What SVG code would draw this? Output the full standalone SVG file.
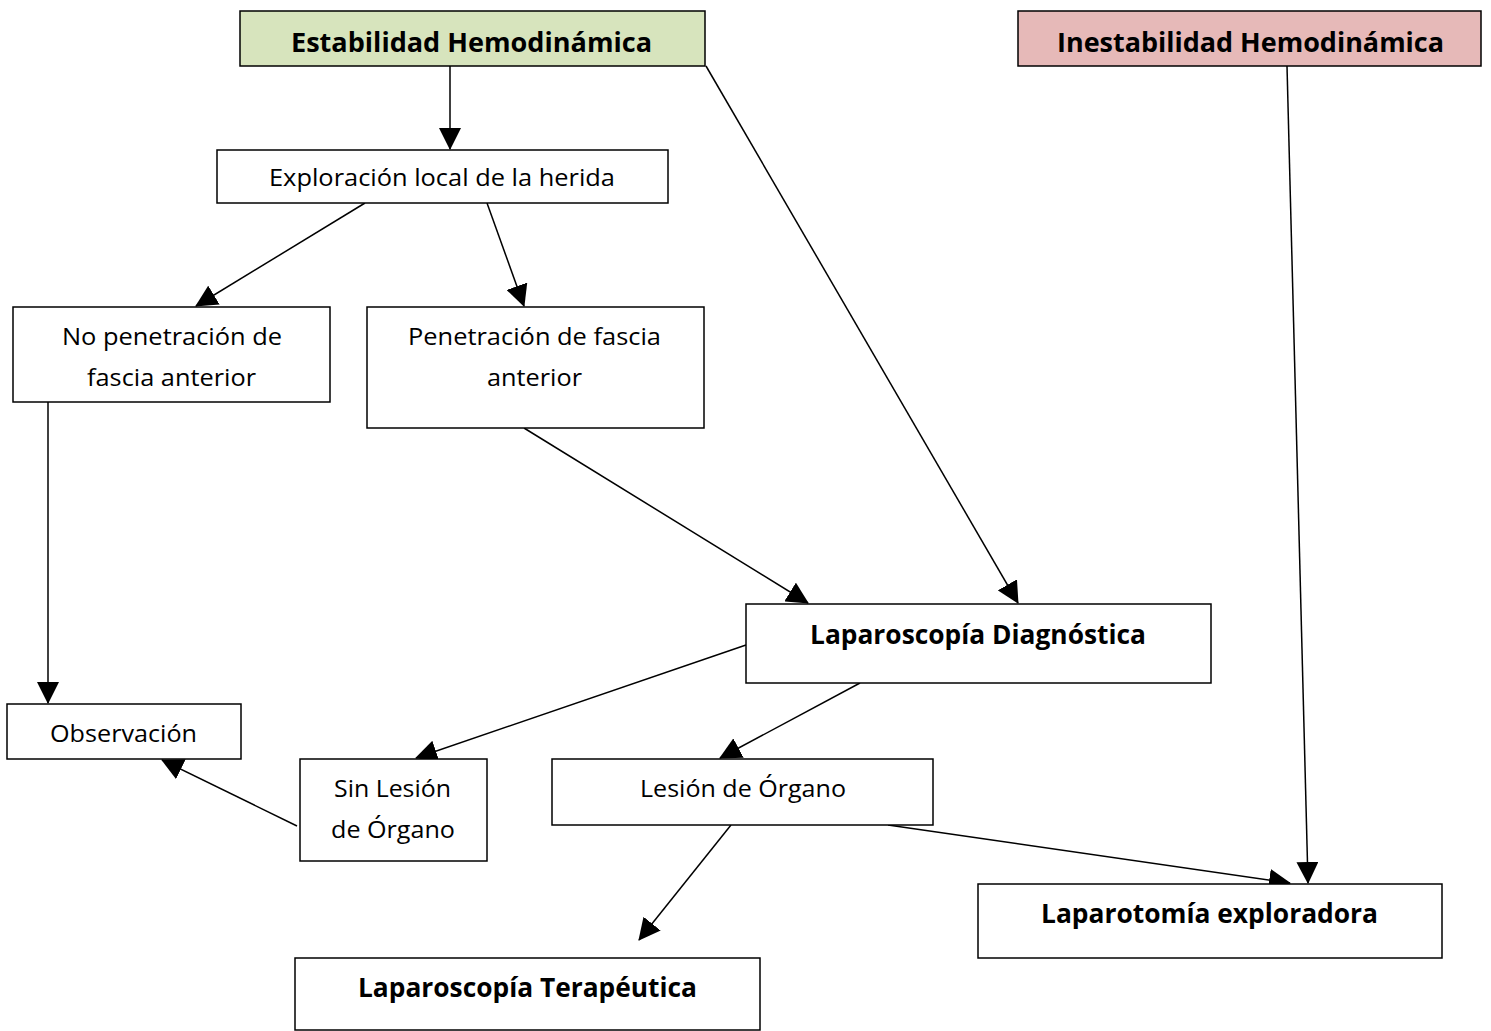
<svg xmlns="http://www.w3.org/2000/svg" width="1491" height="1031" viewBox="0 0 1491 1031">
<defs>
<style>
.box{fill:#fff;stroke:#000;stroke-width:1.5}
.t{font-family:"Open Sans","Liberation Sans",sans-serif;font-size:24px;fill:#000;text-anchor:middle}
.b{font-weight:bold;font-size:26px}
.c{stroke:#000;stroke-width:1.5;fill:none;marker-end:url(#ah)}
</style>
<marker id="ah" markerUnits="userSpaceOnUse" markerWidth="22" markerHeight="22" viewBox="0 0 22 22" refX="21" refY="11" orient="auto">
<path d="M0,0 L22,11 L0,22 z" fill="#000"/>
</marker>
</defs>
<rect width="1491" height="1031" fill="#fff"/>
<g id="connectors">
<line class="c" x1="450" y1="66" x2="450" y2="149"/>
<line class="c" x1="706" y1="66" x2="1018" y2="603"/>
<line class="c" x1="1287" y1="66" x2="1308" y2="883"/>
<line class="c" x1="365" y1="203" x2="196" y2="306"/>
<line class="c" x1="487" y1="203" x2="524" y2="306"/>
<line class="c" x1="48" y1="402" x2="48" y2="703"/>
<line class="c" x1="524" y1="428" x2="808" y2="603"/>
<line class="c" x1="746" y1="645" x2="416" y2="758"/>
<line class="c" x1="860" y1="683" x2="720" y2="758"/>
<line class="c" x1="297" y1="826" x2="162" y2="760"/>
<line class="c" x1="731" y1="825" x2="639" y2="940"/>
<line class="c" x1="888" y1="825" x2="1290" y2="883"/>
</g>
<g id="n1"><rect x="240" y="11" width="465" height="55" fill="#d7e4bd" stroke="#000" stroke-width="1.5"/><text class="t b" x="471.5" y="52" textLength="361" lengthAdjust="spacingAndGlyphs">Estabilidad Hemodinámica</text></g>
<g id="n2"><rect x="1018" y="11" width="463" height="55" fill="#e6b9b8" stroke="#000" stroke-width="1.5"/><text class="t b" x="1250.5" y="52" textLength="387" lengthAdjust="spacingAndGlyphs">Inestabilidad Hemodinámica</text></g>
<g id="n3"><rect class="box" x="217" y="150" width="451" height="53"/><text class="t" x="442" y="186" textLength="346" lengthAdjust="spacingAndGlyphs">Exploración local de la herida</text></g>
<g id="n4"><rect class="box" x="13" y="307" width="317" height="95"/><text class="t" x="172" y="345" textLength="220" lengthAdjust="spacingAndGlyphs">No penetración de</text><text class="t" x="171.5" y="386" textLength="169" lengthAdjust="spacingAndGlyphs">fascia anterior</text></g>
<g id="n5"><rect class="box" x="367" y="307" width="337" height="121"/><text class="t" x="534.5" y="345" textLength="253" lengthAdjust="spacingAndGlyphs">Penetración de fascia</text><text class="t" x="534.5" y="386" textLength="95" lengthAdjust="spacingAndGlyphs">anterior</text></g>
<g id="n6"><rect class="box" x="746" y="604" width="465" height="79"/><text class="t b" x="978" y="644" textLength="336" lengthAdjust="spacingAndGlyphs">Laparoscopía Diagnóstica</text></g>
<g id="n7"><rect class="box" x="7" y="704" width="234" height="55"/><text class="t" x="123.5" y="742" textLength="147" lengthAdjust="spacingAndGlyphs">Observación</text></g>
<g id="n8"><rect class="box" x="300" y="759" width="187" height="102"/><text class="t" x="392.5" y="797" textLength="117" lengthAdjust="spacingAndGlyphs">Sin Lesión</text><text class="t" x="393" y="838" textLength="124" lengthAdjust="spacingAndGlyphs">de Órgano</text></g>
<g id="n9"><rect class="box" x="552" y="759" width="381" height="66"/><text class="t" x="743" y="797" textLength="206" lengthAdjust="spacingAndGlyphs">Lesión de Órgano</text></g>
<g id="n10"><rect class="box" x="978" y="884" width="464" height="74"/><text class="t b" x="1209.5" y="923" textLength="337" lengthAdjust="spacingAndGlyphs">Laparotomía exploradora</text></g>
<g id="n11"><rect class="box" x="295" y="958" width="465" height="72"/><text class="t b" x="527.5" y="997" textLength="339" lengthAdjust="spacingAndGlyphs">Laparoscopía Terapéutica</text></g>
</svg>
